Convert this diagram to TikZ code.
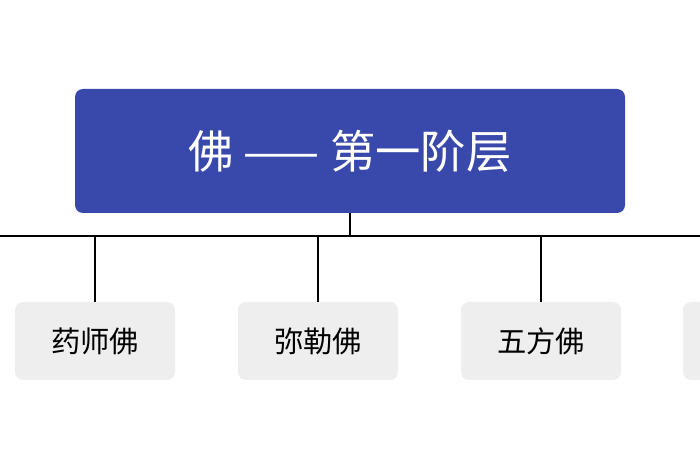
\documentclass[tikz,border=0pt]{standalone}
\usepackage{fontspec}
\newfontfamily\cjk{Noto Sans CJK SC}
\definecolor{headblue}{HTML}{3949AB}
\definecolor{leafgray}{HTML}{EEEEEE}
\tikzset{
  headbox/.style={fill=headblue,rounded corners=6pt,text=white,minimum width=412.5pt,minimum height=93pt,font=\cjk\fontsize{34}{40}\selectfont},
  leafbox/.style={fill=leafgray,rounded corners=6pt,minimum width=120pt,minimum height=58.5pt,font=\cjk\fontsize{22}{26}\selectfont},
  link/.style={line width=2.2pt}
}
\begin{document}
\begin{tikzpicture}[x=0.75pt,y=-0.75pt]
\useasboundingbox (0,0) rectangle (700,470);
\clip (0,0) rectangle (700,470);
\node[headbox] (head) at (350,151) {佛 —— 第一阶层};
\coordinate (hub) at (350,236);
\coordinate (left) at (0,236);
\coordinate (right) at (700,236);
\node[leafbox] (leafa) at (95,341) {药师佛};
\node[leafbox] (leafb) at (318,341) {弥勒佛};
\node[leafbox] (leafc) at (541,341) {五方佛};
\node[leafbox] (leafd) at (763,341) {};
\draw[link] (head.south) -- (hub);
\draw[link] (left) -- (right);
\foreach \n in {leafa,leafb,leafc}
  \draw[link] (\n.north) -- (\n.north |- hub);
\end{tikzpicture}
\end{document}
